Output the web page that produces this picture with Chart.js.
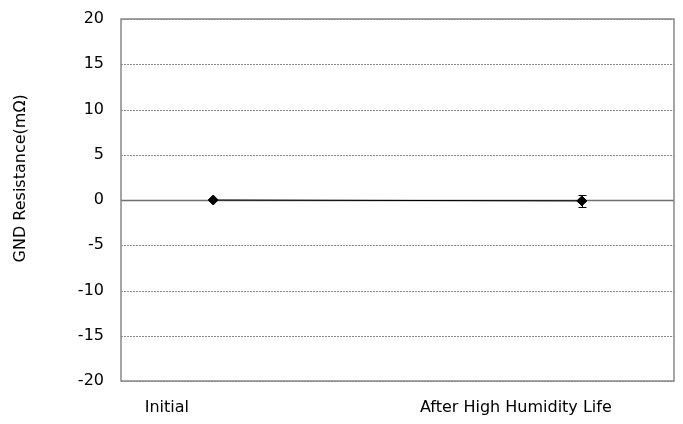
<!DOCTYPE html>
<html><head><meta charset="utf-8">
<script src="https://cdn.jsdelivr.net/npm/chart.js@4/dist/chart.umd.min.js"></script>
<style>html,body{margin:0;padding:0;background:#fff}#c{display:block}</style>
</head><body>
<canvas id="c" width="683" height="424"></canvas>
<script>
const categories = ["Initial", "After High Humidity Life"];
const values = [0.0, -0.1];
const errors = [0.0, 0.65];
const yTicks = [-20, -15, -10, -5, 0, 5, 10, 15, 20];
const yTitle = "GND Resistance(mΩ)";

const pointX = [1/6, 5/6];
const labelX = [0.083, 0.714];

const FONT = "DejaVu Sans";

const gridPlugin = {
  id: 'dashGrid',
  beforeDatasetsDraw(chart) {
    const {ctx, chartArea: a, scales: {y}} = chart;
    ctx.save();
    y.ticks.forEach(t => {
      const py = Math.round(y.getPixelForValue(t.value)) + 0.5;
      if (t.value === 0) {
        ctx.setLineDash([]); ctx.strokeStyle = '#6e6e6e'; ctx.lineWidth = 1.5;
      } else {
        ctx.setLineDash([2, 1]); ctx.strokeStyle = '#8a8a8a'; ctx.lineWidth = 1;
      }
      ctx.beginPath(); ctx.moveTo(a.left, py); ctx.lineTo(a.right, py); ctx.stroke();
    });
    ctx.restore();
  }
};

const errorBars = {
  id: 'errorBars',
  afterDatasetsDraw(chart) {
    const {ctx, scales: {x, y}} = chart;
    ctx.save();
    ctx.strokeStyle = '#000';
    ctx.lineWidth = 1;
    values.forEach((v, i) => {
      const e = errors[i];
      if (!e) return;
      const px = Math.round(x.getPixelForValue(pointX[i])) + 0.5;
      const top = Math.round(y.getPixelForValue(v + e)) + 0.5, bot = Math.round(y.getPixelForValue(v - e)) + 0.5;
      ctx.beginPath();
      ctx.moveTo(px, top); ctx.lineTo(px, bot);
      ctx.moveTo(px - 4, top); ctx.lineTo(px + 4, top);
      ctx.moveTo(px - 4, bot); ctx.lineTo(px + 4, bot);
      ctx.stroke();
    });
    ctx.restore();
  }
};
const frame = {
  id: 'frame',
  afterDraw(chart) {
    const a = chart.chartArea, ctx = chart.ctx;
    ctx.save();
    ctx.strokeStyle = '#888';
    ctx.lineWidth = 1.5;
    ctx.strokeRect(a.left, a.top, a.right - a.left, a.bottom - a.top);
    // y-axis title
    ctx.fillStyle = '#000';
    ctx.font = '16px "' + FONT + '"';
    ctx.textAlign = 'center';
    ctx.textBaseline = 'middle';
    ctx.translate(21, a.top + (a.bottom - a.top) * 0.44);
    ctx.rotate(-Math.PI / 2);
    ctx.fillText(yTitle, 0, 0);
    ctx.restore();
  }
};

new Chart(document.getElementById('c'), {
  type: 'scatter',
  data: {
    datasets: [{
      data: values.map((v, i) => ({x: pointX[i], y: v})),
      showLine: true,
      borderColor: '#000',
      borderWidth: 1,
      backgroundColor: '#000',
      pointStyle: 'rectRot',
      pointRadius: 5,
      pointHoverRadius: 5
    }]
  },
  options: {
    responsive: false,
    animation: false,
    events: [],
    layout: {padding: {top: 19, right: 9, left: 0, bottom: 0}},
    plugins: {legend: {display: false}, tooltip: {enabled: false}},
    scales: {
      x: {
        type: 'linear', min: 0, max: 1,
        afterBuildTicks(s) { s.ticks = labelX.map(v => ({value: v})); },
        afterFit(s) { s.height = 43; s.paddingLeft = 0; s.paddingRight = 0; },
        grid: {display: false, drawTicks: false},
        border: {display: false},
        ticks: {
          autoSkip: false, maxRotation: 0, padding: 17,
          color: '#000', font: {family: FONT, size: 16},
          callback(v, i) { return categories[i]; }
        }
      },
      y: {
        min: -20, max: 20,
        afterBuildTicks(s) { s.ticks = yTicks.map(v => ({value: v})); },
        afterFit(s) { s.width = 121; s.paddingTop = 0; s.paddingBottom = 0; },
        grid: {display: false, drawTicks: false},
        border: {display: false},
        ticks: {padding: 17, color: '#000', font: {family: FONT, size: 16}}
      }
    }
  },
  plugins: [gridPlugin, errorBars, frame]
});
</script>
</body></html>
